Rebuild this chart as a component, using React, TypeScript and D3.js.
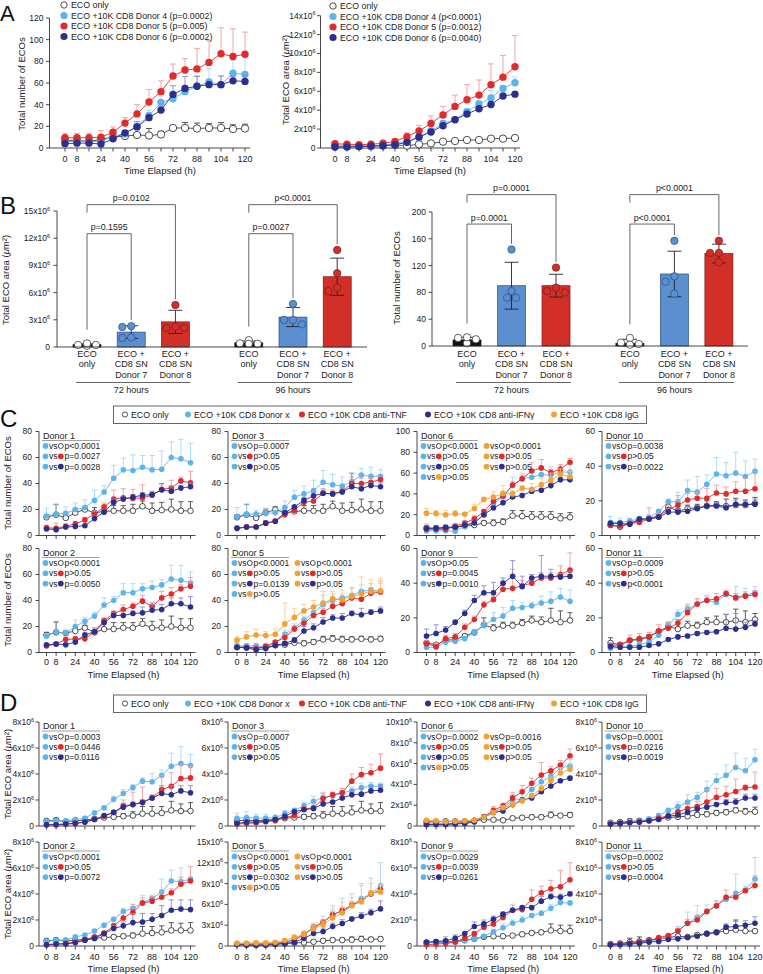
import React from "react";
import * as d3 from "d3";

const FONT = "Arial, 'Liberation Sans', Helvetica, sans-serif";
const TXT = "#222";

const TIME = [0, 8, 16, 24, 32, 40, 48, 56, 64, 72, 80, 88, 96, 104, 112, 120];
const TIME_LABELS = [0, 8, 24, 40, 56, 72, 88, 104, 120];

const COL: Record<string, string> = { eco: "#222222", x: "#5DB4EB", tnf: "#E12B2B", ifn: "#2C2F8E", igg: "#F2A234" };
const ERRC: Record<string, string> = { eco: "#4a4a4a", x: "#A9D7F4", tnf: "#F09C9C", ifn: "#8A8CC8", igg: "#F7CD8E" };

// ---------- Panel A ----------
const aCountEco = [7, 7, 6, 8, 10, 11, 12, 11.5, 12.5, 18.5, 18.5, 18, 18.5, 18.5, 17.5, 18];
const aCountEcoSd = [2, 2, 2, 2, 2, 2, 2, 6.5, 3, 1.5, 5, 5, 4, 5, 4, 4];
const aCountD4 = [6, 6, 6, 6, 11, 13, 20, 30, 42, 45.5, 52, 57, 61, 58.5, 69, 68];
const aCountD4Sd = [3, 3, 3, 3, 3, 3, 3, 5, 6, 4, 6, 10, 12, 8, 12, 15];
const aCountD5 = [9.5, 9.5, 9.5, 10, 14.5, 23, 31.5, 42.5, 52, 66.5, 72, 73, 79, 87, 84.5, 86.5];
const aCountD5Sd = [4, 4, 4, 6, 5, 5, 8.5, 11.5, 10, 11, 10.5, 19, 20, 24, 25.5, 20.5];
const aCountD6 = [4, 4.5, 4.5, 3.7, 8.5, 14, 19.5, 28, 35, 49.5, 55, 57, 58.5, 58.5, 62, 61.5];
const aCountD6Sd = [2, 2, 2, 2, 2, 2, 5, 3, 3, 8, 11, 9, 3, 8, 4, 5];

const aAreaEco = [0.2, 0.2, 0.2, 0.2, 0.25, 0.32, 0.25, 0.39, 0.49, 0.67, 0.74, 0.85, 0.85, 0.99, 0.99, 1.06];
const aAreaEcoSd = [0.1, 0.1, 0.1, 0.1, 0.1, 0.1, 0.1, 0.1, 0.1, 0.1, 0.1, 0.1, 0.1, 0.2, 0.2, 0.15];
const aAreaD4 = [0.15, 0.15, 0.15, 0.2, 0.3, 0.46, 0.7, 1.2, 1.8, 2.6, 3.0, 3.85, 4.65, 5.3, 6.3, 6.9];
const aAreaD4Sd = [0.1, 0.1, 0.1, 0.1, 0.1, 0.1, 0.15, 0.2, 0.25, 0.3, 0.3, 0.3, 0.35, 0.8, 0.3, 0.6];
const aAreaD5 = [0.45, 0.4, 0.35, 0.4, 0.5, 0.7, 1.2, 1.8, 2.6, 3.5, 4.4, 5.1, 5.6, 6.7, 7.5, 8.6];
const aAreaD5Sd = [0.2, 0.1, 0.1, 0.1, 0.15, 0.15, 0.4, 0.6, 0.8, 0.9, 1.2, 1.6, 1.6, 2.2, 2.3, 3.3];
const aAreaD6 = [0.1, 0.1, 0.15, 0.2, 0.25, 0.35, 0.6, 1.15, 1.7, 2.35, 3.0, 3.6, 4.15, 4.6, 5.5, 5.7];
const aAreaD6Sd = [0.05, 0.05, 0.05, 0.05, 0.05, 0.1, 0.1, 0.15, 0.15, 0.15, 0.15, 0.2, 0.2, 0.2, 0.2, 0.2];

const aCountLegend = ["ECO only", "ECO +10K CD8 Donor 4 (p=0.0002)", "ECO +10K CD8 Donor 5 (p=0.005)", "ECO +10K CD8 Donor 6 (p=0.0002)"];
const aAreaLegend = ["ECO only", "ECO +10K CD8 Donor 4 (p<0.0001)", "ECO +10K CD8 Donor 5 (p=0.0012)", "ECO +10K CD8 Donor 6 (p=0.0040)"];

// ---------- Panel B ----------
const bGroups = ["72 hours", "96 hours"];
const bConditions = [["ECO", "only"], ["ECO +", "CD8 SN", "Donor 7"], ["ECO +", "CD8 SN", "Donor 8"]];
const bAreaMean = [0.25, 1.64, 2.77, 0.46, 3.3, 7.75];
const bAreaSd = [0.1, 0.7, 1.28, 0.2, 1.05, 2.05];
const bAreaDots = [[0.14, 0.4, 0.22, 0.22], [2.2, 2.3, 1.0, 1.05], [4.63, 2.24, 2.1, 2.1], [0.75, 0.35, 0.35, 0.4], [4.74, 2.98, 2.98, 2.5], [10.7, 8.13, 6.17, 6.54]];
const bAreaP = [["p=0.1595", "p=0.0102"], ["p=0.0027", "p<0.0001"]];
const bAreaBracket = [12.5, 15.7];
const bCountMean = [9, 90, 90, 4, 107.5, 138];
const bCountSd = [4, 35, 17, 6, 34, 14];
const bCountDots = [[4, 10, 12, 13], [144, 82, 72, 72], [117, 87, 80, 82], [12, 2, 3, 5], [157, 104, 96, 78], [157, 139, 139, 125]];
const bCountP = [["p=0.0001", "p=0.0001"], ["p<0.0001", "p<0.0001"]];
const bCountBracket = [182, 226];

// ---------- Panel C (number of ECOs) ----------
const cD1 = {
  eco: [14, 16, 13.5, 17.5, 20, 17.5, 18.5, 19, 19, 19, 22.5, 19, 19.5, 20, 19, 19], ecoSd: [2, 8, 2, 3, 2, 4, 3, 4, 4, 5, 4, 6, 6, 8, 7, 7],
  x: [15, 16.5, 17, 20, 21.5, 27, 33.5, 44, 50.5, 50, 52.5, 50.5, 51, 60, 59, 56], xSd: [6, 7, 5, 5, 6, 8, 5, 10, 9, 12, 9, 11, 14, 12, 15, 15],
  tnf: [6, 5.5, 7, 9, 12, 16.5, 22, 28, 29, 28.5, 29, 31, 35.5, 36.5, 42, 40.5], tnfSd: [2, 4, 2, 2, 2, 2, 3, 7, 7, 7, 10, 3, 4, 6, 3, 9],
  ifn: [5, 4.5, 6.5, 7, 7.5, 13, 18, 25.5, 28, 29.5, 31, 31.5, 35, 34, 36.5, 37.5], ifnSd: [1, 1, 1, 1, 1, 2, 2, 2.5, 2, 2, 2, 2, 5, 4, 2, 3],
};
const cD3 = {
  eco: [14, 16, 13.5, 17.5, 20, 17.5, 18.5, 19, 19, 19, 22.5, 19, 19.5, 20, 19, 19], ecoSd: [2, 8, 2, 3, 2, 4, 3, 4, 4, 5, 4, 6, 6, 8, 7, 7],
  x: [14.5, 16.5, 16.5, 17, 17.5, 21.5, 29.5, 32, 34.5, 41, 39, 38, 41.5, 46.5, 45.5, 45.5], xSd: [7, 7, 3, 4, 3, 5, 5, 6, 8, 9, 8, 7, 7, 5, 7, 5],
  tnf: [5.5, 6.5, 6.5, 9.5, 11, 16, 19.5, 25.5, 26.5, 32.5, 32, 34, 40, 40, 41, 43], tnfSd: [2, 2, 1, 2, 2, 2, 2.5, 3, 3, 3.5, 3, 2, 5, 4, 3, 2],
  ifn: [5.5, 6.5, 6.5, 9.5, 11, 17.5, 22, 27, 30.5, 32.5, 32, 33.5, 37.5, 36, 38.5, 37.5], ifnSd: [1, 1, 1, 1, 1, 1, 1, 2, 2.5, 2.5, 2, 3, 10, 2, 2, 3],
};
const cD6 = {
  eco: [7, 7, 7, 8, 9, 10, 12, 12, 13, 19, 18.5, 18, 18, 18, 16.5, 17.5], ecoSd: [2, 2, 2, 2, 2, 3, 2, 3, 3, 5, 5.5, 5, 5, 5, 4.5, 4.5],
  x: [4.5, 4.5, 4.5, 4, 9, 13, 20, 30.5, 37, 48, 54.5, 56, 58.5, 58, 61, 61], xSd: [2, 2, 2, 2, 2, 2, 2, 3.5, 3, 8, 5.5, 7, 7.5, 8, 7, 7],
  tnf: [6, 6, 6, 9, 12, 16, 23, 33, 38, 48.5, 54.5, 62, 65, 60.5, 64, 70.5], tnfSd: [5, 2, 2, 2, 2, 3, 2, 4, 3, 3.5, 3.5, 8, 8, 3, 4, 3.5],
  ifn: [7, 7, 8, 8, 10, 12, 20, 26.5, 31.5, 37, 38.5, 42.5, 43.5, 48, 53.5, 53.5], ifnSd: [2, 2, 2, 2, 2, 2, 2, 2, 2, 2, 2, 2, 2, 2, 2, 2],
  igg: [21.5, 21, 20, 21, 20.5, 26, 34.5, 37, 40.5, 40, 45.5, 44.5, 49, 53, 59, 56.5], iggSd: [4.5, 3, 4, 3, 2, 4, 2.5, 5, 7.5, 3, 2.5, 5.5, 6, 7, 5, 5.5],
};
const cD10 = {
  eco: [6, 5, 7, 9, 10, 11, 16.5, 14, 15.5, 16, 17, 17.5, 17, 17.5, 17.5, 18.5], ecoSd: [2, 1.5, 1, 1, 1, 1, 2.5, 1.5, 2, 2, 3, 2, 4, 4, 3, 3.5],
  x: [7.5, 7.5, 8.5, 9.5, 10, 14, 19.5, 19.5, 26, 25, 29.5, 35.5, 34.5, 36, 34, 37], xSd: [3.5, 2.5, 1.5, 1.5, 2, 1, 1.5, 5.5, 6, 9, 5.5, 9.5, 7.5, 12, 9, 7],
  tnf: [6, 5.5, 7, 7.5, 9.5, 11, 15, 17.5, 20.5, 21.5, 21.5, 24.5, 24, 25.5, 25.5, 27], tnfSd: [1, 1, 2, 1.5, 6.5, 1.5, 2, 5.5, 3.5, 3.5, 5.5, 4.5, 4, 5.5, 7.5, 10],
  ifn: [7, 7, 6.5, 9.5, 9.5, 10.5, 13.5, 13.5, 14, 15.5, 17, 17, 16, 18, 18, 18], ifnSd: [1, 1, 1, 1, 1, 1, 2, 2, 2.5, 1.5, 1.5, 2, 2, 2.5, 2, 3],
};
const cD2 = {
  eco: [13.5, 15.5, 15, 16.5, 19, 15.5, 18, 18, 19, 19, 22, 19, 19, 20, 19, 19], ecoSd: [2, 8, 2, 2, 2, 2, 4, 5, 4, 4, 4, 5, 6, 8, 7, 7],
  x: [12.5, 16, 15, 20, 24, 28, 36.5, 40, 46, 46, 49, 50, 52, 56.5, 55.5, 53.5], xSd: [2, 2, 2, 5, 3, 3, 5.5, 3, 7, 7, 4, 5, 4, 10.5, 11.5, 8.5],
  tnf: [5, 6.5, 10, 10.5, 10.5, 16, 24.5, 30, 33, 35.5, 39.5, 35.5, 42, 45, 49, 51], tnfSd: [1, 1.5, 2, 1.5, 1.5, 2, 2, 2, 3.5, 2.5, 4.5, 3, 5, 5, 3, 6.5],
  ifn: [6, 6.5, 6, 8, 13.5, 16, 23, 28.5, 28.5, 30, 30.5, 32.5, 33, 37.5, 37.5, 35], ifnSd: [1, 1, 1, 1.5, 2, 3, 2, 2.5, 3, 2, 4.5, 4.5, 4, 4.5, 4.5, 8],
};
const cD5 = {
  eco: [4, 4, 3.5, 4, 5.5, 6, 7.5, 7, 8, 10, 10.5, 10, 10, 10.5, 10, 10.5], ecoSd: [1.5, 1.5, 1.5, 1.5, 1.5, 2, 2, 2, 2, 2.5, 2.5, 2.5, 2, 2, 2, 2],
  x: [5, 5, 5, 4.5, 7, 14, 19, 25, 30.5, 37, 40, 42, 44, 47, 48, 47], xSd: [2, 2, 2, 2, 2, 3, 3, 3, 3, 7, 5, 3, 6, 5, 5, 6],
  tnf: [4, 4, 3, 5, 8, 11.5, 18, 22.5, 28.5, 31, 35.5, 37.5, 42, 41, 45.5, 46.5], tnfSd: [1, 1, 1, 1, 1, 2.5, 2, 2.5, 2.5, 3, 2.5, 2.5, 2, 4, 4.5, 8.5],
  ifn: [4, 3.5, 2, 3, 5.5, 7, 9.5, 16.5, 19, 23.5, 26.5, 26.5, 30, 29, 31, 32], ifnSd: [1, 1, 1, 1, 1, 1, 2, 3.5, 3, 3.5, 2.5, 3.5, 2, 5, 2, 3],
  igg: [9.5, 12, 13.5, 13, 14, 22, 27, 32, 35, 38, 41.5, 40.5, 43, 45, 47, 47.5], iggSd: [2.5, 4, 4.5, 3, 4, 16, 7, 5, 5, 9, 5.5, 7.5, 6, 13, 9, 9.5],
};
const cD9 = {
  eco: [5.5, 4.5, 7, 7.5, 9.5, 11.5, 16, 14, 15.5, 15.5, 17, 18.5, 17.5, 18.5, 17.5, 18.5], ecoSd: [1, 1, 1, 1, 1, 1.5, 4, 2, 2, 2, 2, 2.5, 3, 7, 6.5, 4.5],
  x: [3, 3, 6, 6.5, 8, 11.5, 15.5, 19, 21, 25.5, 26, 27, 28.5, 29.5, 32, 29.5], xSd: [1, 1, 1, 1, 1, 1.5, 2, 4, 5, 4.5, 3, 2, 4, 5.5, 5, 6.5],
  tnf: [5, 3.5, 8, 9, 14.5, 19, 27.5, 30.5, 36.5, 37, 38.5, 40, 43, 43, 45, 47.5], tnfSd: [2, 2, 2, 2, 2, 2, 2, 2, 3, 11, 3, 3, 3, 3, 5, 10],
  ifn: [9.5, 11, 13, 17.5, 22.5, 30, 34.5, 34.5, 40, 44, 38, 43, 44, 44, 43.5, 44], ifnSd: [4, 5, 2, 1, 2, 3, 4, 6, 3, 9, 6, 2, 12, 4, 2, 3],
};
const cD11 = {
  eco: [5.5, 4.5, 7, 7.5, 9, 12, 15, 13.5, 15.5, 15.5, 17.5, 17.5, 17.5, 18.5, 17.5, 19], ecoSd: [3, 1, 1, 1, 1, 1, 2, 5.5, 2.5, 2, 2.5, 3.5, 4.5, 6.5, 6.5, 3.5],
  x: [2.5, 3, 3.5, 4.5, 6, 10, 15.5, 22, 25, 28, 30, 29, 33.5, 32, 33, 34.5], xSd: [1, 1, 1, 1, 1, 1, 2.5, 2.5, 3, 3, 3, 3, 1.5, 6, 4, 3.5],
  tnf: [4, 4.5, 7, 8, 9, 12.5, 14, 17, 23, 28, 30, 31, 34, 31.5, 32.5, 33.5], tnfSd: [1, 1, 3, 3, 2.5, 3.5, 3, 2, 4, 3, 2, 3, 2, 2.5, 2.5, 2],
  ifn: [3.5, 3, 3, 3, 4, 5, 7.5, 9, 9.5, 11, 11.5, 12, 14, 13.5, 14.5, 16.5], ifnSd: [2, 1, 1, 1, 1, 1, 1, 1, 1, 1, 1, 1, 8, 9, 3, 2],
};

// ---------- Panel D (area, x10^6 um^2) ----------
const dD1 = {
  eco: [0.4, 0.45, 0.35, 0.4, 0.45, 0.55, 0.65, 0.7, 0.75, 0.8, 0.95, 0.95, 1.0, 1.2, 1.15, 1.15], ecoSd: [0.1, 0.15, 0.1, 0.1, 0.1, 0.1, 0.1, 0.15, 0.2, 0.3, 0.55, 0.55, 0.5, 0.7, 0.55, 0.65],
  x: [0.35, 0.4, 0.4, 0.5, 0.6, 1.0, 1.4, 2.05, 2.5, 2.95, 3.45, 3.4, 3.9, 4.6, 4.8, 4.65], xSd: [0.1, 0.1, 0.1, 0.1, 0.15, 0.2, 0.1, 0.25, 0.3, 0.25, 0.25, 0.65, 0.4, 1.0, 1.3, 0.85],
  tnf: [0.1, 0.1, 0.15, 0.2, 0.3, 0.5, 0.75, 1.05, 1.55, 1.65, 1.85, 2.15, 2.8, 3.05, 3.65, 3.7], tnfSd: [0.05, 0.05, 0.05, 0.05, 0.1, 0.1, 0.1, 0.15, 0.45, 0.95, 1.15, 0.25, 1.1, 1.05, 1.05, 0.9],
  ifn: [0.1, 0.1, 0.15, 0.2, 0.3, 0.5, 0.8, 1.05, 1.45, 1.65, 1.8, 2.15, 2.5, 2.4, 2.7, 2.55], ifnSd: [0.05, 0.05, 0.05, 0.05, 0.1, 0.1, 0.1, 0.1, 0.3, 0.2, 0.2, 0.2, 0.6, 0.7, 0.4, 0.55],
};
const dD3 = {
  eco: [0.4, 0.45, 0.4, 0.45, 0.5, 0.6, 0.65, 0.7, 0.75, 0.8, 0.95, 0.95, 1.05, 1.2, 1.15, 1.15], ecoSd: [0.1, 0.15, 0.1, 0.1, 0.1, 0.1, 0.1, 0.15, 0.2, 0.3, 0.55, 0.55, 0.5, 0.7, 0.55, 0.65],
  x: [0.6, 0.65, 0.6, 0.6, 0.65, 0.95, 1.2, 1.55, 1.9, 2.2, 2.3, 2.55, 2.7, 2.95, 3.05, 3.05], xSd: [0.4, 0.45, 0.3, 0.3, 0.2, 0.25, 0.15, 0.25, 0.4, 0.3, 0.3, 0.3, 0.3, 0.35, 0.3, 0.25],
  tnf: [0.15, 0.2, 0.25, 0.35, 0.4, 0.65, 0.8, 1.3, 1.4, 2.1, 2.4, 2.55, 3.45, 3.95, 4.1, 4.45], tnfSd: [0.05, 0.05, 0.05, 0.1, 0.1, 0.1, 0.1, 0.2, 0.3, 0.45, 0.2, 0.35, 0.55, 0.55, 0.65, 1.1],
  ifn: [0.2, 0.3, 0.3, 0.35, 0.5, 0.75, 1.1, 1.25, 1.35, 1.7, 1.85, 2.15, 2.4, 2.45, 2.7, 2.75], ifnSd: [0.05, 0.05, 0.05, 0.05, 0.1, 0.1, 0.1, 0.1, 0.1, 0.1, 0.1, 0.1, 0.35, 0.45, 0.4, 0.45],
};
const dD6 = {
  eco: [0.4, 0.4, 0.45, 0.45, 0.45, 0.5, 0.6, 0.6, 0.55, 0.75, 0.8, 0.85, 0.85, 1.05, 1.0, 1.05], ecoSd: [0.1, 0.1, 0.1, 0.1, 0.1, 0.1, 0.1, 0.1, 0.15, 0.15, 0.15, 0.2, 0.2, 0.3, 0.2, 0.25],
  x: [0.15, 0.15, 0.15, 0.2, 0.25, 0.35, 0.8, 1.35, 1.75, 2.5, 2.55, 3.5, 4.25, 4.75, 5.6, 5.75], xSd: [0.05, 0.05, 0.05, 0.05, 0.05, 0.1, 0.1, 0.15, 0.2, 0.5, 0.45, 0.2, 0.55, 0.55, 0.3, 0.65],
  tnf: [0.15, 0.2, 0.2, 0.25, 0.35, 0.55, 0.9, 1.5, 1.95, 2.7, 3.3, 4.1, 4.9, 5.3, 5.85, 6.75], tnfSd: [0.05, 0.05, 0.05, 0.05, 0.1, 0.15, 0.2, 0.35, 0.25, 0.5, 0.6, 0.5, 1.2, 0.4, 0.45, 0.65],
  ifn: [0.15, 0.15, 0.15, 0.2, 0.25, 0.4, 0.85, 1.3, 1.45, 2.05, 2.5, 2.7, 3.3, 3.85, 4.35, 4.6], ifnSd: [0.05, 0.05, 0.05, 0.05, 0.05, 0.1, 0.1, 0.1, 0.1, 0.1, 0.1, 0.1, 0.1, 0.1, 0.1, 0.1],
  igg: [0.55, 0.5, 0.4, 0.45, 0.5, 0.55, 0.85, 1.3, 1.75, 2.05, 2.4, 2.9, 3.6, 4.4, 5.1, 5.45], iggSd: [0.1, 0.1, 0.1, 0.1, 0.1, 0.1, 0.1, 0.2, 0.2, 0.2, 0.2, 0.2, 0.3, 0.3, 0.5, 0.55],
};
const dD10 = {
  eco: [0.25, 0.3, 0.35, 0.4, 0.45, 0.55, 0.65, 0.7, 0.75, 0.85, 0.9, 1.0, 1.05, 1.2, 1.1, 1.1], ecoSd: [0.05, 0.05, 0.2, 0.1, 0.1, 0.1, 0.1, 0.1, 0.1, 0.15, 0.2, 0.2, 0.2, 0.2, 0.25, 0.35],
  x: [0.2, 0.2, 0.3, 0.35, 0.55, 0.8, 1.2, 1.5, 1.85, 2.2, 2.8, 3.5, 3.9, 4.5, 4.25, 5.1], xSd: [0.05, 0.05, 0.1, 0.1, 0.1, 0.1, 0.15, 0.35, 0.55, 0.4, 0.65, 0.5, 0.8, 1.1, 0.95, 0.8],
  tnf: [0.15, 0.2, 0.25, 0.3, 0.4, 0.6, 0.8, 1.1, 1.35, 1.5, 1.85, 2.2, 2.4, 2.65, 2.95, 3.0], tnfSd: [0.05, 0.05, 0.05, 0.05, 0.05, 0.1, 0.1, 0.15, 0.3, 0.4, 0.95, 0.7, 0.65, 0.95, 0.2, 1.15],
  ifn: [0.15, 0.2, 0.25, 0.3, 0.4, 0.5, 0.75, 0.85, 1.05, 1.3, 1.45, 1.65, 1.8, 1.85, 2.15, 2.15], ifnSd: [0.05, 0.05, 0.05, 0.05, 0.05, 0.05, 0.1, 0.1, 0.1, 0.1, 0.15, 0.15, 0.25, 0.25, 0.3, 0.3],
};
const dD2 = {
  eco: [0.4, 0.45, 0.4, 0.45, 0.5, 0.6, 0.65, 0.7, 0.75, 0.8, 0.95, 1.0, 1.05, 1.2, 1.2, 1.2], ecoSd: [0.1, 0.15, 0.1, 0.1, 0.1, 0.1, 0.1, 0.1, 0.15, 0.2, 0.55, 0.5, 0.5, 0.6, 0.55, 0.6],
  x: [0.35, 0.45, 0.45, 0.7, 0.85, 1.15, 1.6, 2.05, 2.65, 2.9, 3.35, 3.65, 4.15, 5.0, 4.95, 5.15], xSd: [0.1, 0.1, 0.1, 0.1, 0.1, 0.1, 0.15, 0.15, 0.25, 0.15, 0.55, 0.25, 1.0, 0.85, 1.05, 0.1],
  tnf: [0.1, 0.15, 0.2, 0.3, 0.5, 0.7, 1.0, 1.55, 2.15, 2.6, 3.3, 3.45, 3.75, 4.1, 4.75, 5.0], tnfSd: [0.05, 0.05, 0.05, 0.05, 0.1, 0.1, 0.1, 0.2, 0.35, 0.6, 0.4, 0.35, 0.45, 0.3, 0.55, 1.1],
  ifn: [0.1, 0.15, 0.15, 0.25, 0.45, 0.6, 0.95, 1.35, 1.55, 1.8, 1.85, 2.05, 2.35, 2.75, 2.85, 2.8], ifnSd: [0.05, 0.05, 0.05, 0.05, 0.1, 0.1, 0.1, 0.2, 0.3, 0.7, 0.65, 0.45, 0.75, 0.8, 0.7, 0.75],
};
const dD5 = {
  eco: [0.3, 0.3, 0.3, 0.3, 0.35, 0.35, 0.45, 0.5, 0.6, 0.75, 0.85, 0.85, 0.9, 1.0, 0.95, 1.0], ecoSd: [0.1, 0.1, 0.1, 0.1, 0.1, 0.1, 0.1, 0.1, 0.2, 0.25, 0.3, 0.3, 0.4, 0.4, 0.3, 0.3],
  x: [0.3, 0.2, 0.2, 0.25, 0.35, 0.55, 1.0, 1.75, 2.65, 3.5, 4.55, 5.05, 5.9, 6.85, 7.5, 8.7], xSd: [0.1, 0.1, 0.1, 0.1, 0.1, 0.1, 0.2, 0.4, 0.65, 0.8, 1.25, 1.85, 1.6, 2.15, 2.3, 3.3],
  tnf: [0.2, 0.15, 0.1, 0.15, 0.35, 0.55, 0.85, 1.6, 2.7, 3.4, 4.5, 5.1, 5.9, 6.5, 7.5, 8.1], tnfSd: [0.05, 0.05, 0.05, 0.05, 0.1, 0.1, 0.2, 0.3, 0.4, 0.4, 0.5, 0.5, 0.5, 0.5, 0.5, 0.7],
  ifn: [0.2, 0.15, 0.1, 0.15, 0.2, 0.35, 0.55, 1.1, 1.8, 2.1, 2.8, 3.25, 3.9, 4.3, 4.8, 5.35], ifnSd: [0.05, 0.05, 0.05, 0.05, 0.05, 0.1, 0.1, 0.2, 0.3, 0.5, 0.5, 0.55, 0.3, 0.5, 0.5, 1.15],
  igg: [0.4, 0.4, 0.45, 0.45, 0.55, 0.8, 1.25, 1.65, 2.5, 3.1, 4.05, 4.75, 5.8, 6.4, 7.6, 7.8], iggSd: [0.1, 0.1, 0.1, 0.1, 0.1, 0.1, 0.45, 0.55, 0.5, 0.5, 1.25, 1.55, 1.2, 2.3, 1.4, 1.0],
};
const dD9 = {
  eco: [0.25, 0.3, 0.3, 0.35, 0.45, 0.55, 0.7, 0.75, 0.75, 0.8, 0.9, 1.0, 1.05, 1.2, 1.15, 1.15], ecoSd: [0.05, 0.05, 0.05, 0.05, 0.1, 0.1, 0.1, 0.1, 0.1, 0.1, 0.15, 0.15, 0.15, 0.5, 0.45, 0.45],
  x: [0.25, 0.3, 0.25, 0.3, 0.4, 0.55, 0.75, 1.1, 1.4, 1.75, 2.0, 2.35, 2.5, 2.9, 3.35, 3.3], xSd: [0.05, 0.05, 0.05, 0.05, 0.05, 0.1, 0.1, 0.2, 0.3, 0.25, 0.3, 0.15, 0.25, 0.3, 0.25, 0.2],
  tnf: [0.1, 0.15, 0.2, 0.3, 0.6, 0.95, 1.45, 1.7, 2.2, 2.75, 2.8, 3.6, 4.1, 4.4, 4.55, 5.1], tnfSd: [0.05, 0.05, 0.05, 0.05, 0.1, 0.1, 0.1, 0.1, 0.3, 0.4, 0.25, 0.7, 0.5, 0.65, 1.25, 1.3],
  ifn: [0.3, 0.35, 0.4, 0.6, 0.95, 1.5, 1.7, 2.05, 2.45, 2.75, 2.95, 2.95, 3.45, 3.8, 3.75, 4.0], ifnSd: [0.1, 0.1, 0.3, 0.25, 0.1, 0.35, 0.3, 0.25, 0.15, 0.15, 0.1, 0.1, 0.35, 0.2, 0.25, 0.2],
};
const dD11 = {
  eco: [0.15, 0.2, 0.3, 0.35, 0.45, 0.55, 0.65, 0.75, 0.7, 0.85, 0.95, 1.05, 1.15, 1.25, 1.15, 1.15], ecoSd: [0.1, 0.1, 0.3, 0.35, 0.1, 0.1, 0.1, 0.1, 0.1, 0.1, 0.1, 0.1, 0.4, 0.75, 0.45, 0.1],
  x: [0.1, 0.15, 0.2, 0.25, 0.3, 0.5, 0.75, 1.2, 1.75, 2.2, 2.65, 3.1, 3.6, 4.05, 4.3, 5.15], xSd: [0.05, 0.05, 0.05, 0.05, 0.05, 0.05, 0.1, 0.3, 0.85, 0.9, 0.5, 0.4, 0.3, 1.5, 0.3, 1.65],
  tnf: [0.1, 0.15, 0.2, 0.3, 0.4, 0.65, 0.8, 1.15, 1.75, 2.0, 2.65, 3.1, 3.75, 3.75, 4.25, 4.65], tnfSd: [0.05, 0.05, 0.05, 0.05, 0.05, 0.05, 0.1, 0.2, 0.3, 0.3, 0.2, 0.3, 0.55, 0.25, 0.15, 0.75],
  ifn: [0.1, 0.1, 0.15, 0.2, 0.3, 0.35, 0.5, 0.55, 0.65, 0.75, 0.95, 1.05, 1.45, 1.5, 1.6, 1.75], ifnSd: [0.05, 0.05, 0.05, 0.05, 0.05, 0.05, 0.05, 0.05, 0.05, 0.05, 0.1, 0.1, 0.25, 0.4, 0.35, 0.5],
};

// annotations: [vs symbol, p-text]
const annC1 = [["eco", "p<0.0001"], ["tnf", "p=0.0027"], ["ifn", "p=0.0028"]];
const annC3 = [["eco", "p=0.0007"], ["tnf", "p>0.05"], ["ifn", "p>0.05"]];
const annC6 = [["eco", "p<0.0001"], ["tnf", "p>0.05"], ["ifn", "p>0.05"], ["igg", "p>0.05"]];
const annC6g = [["eco", "p<0.0001"], ["tnf", "p>0.05"], ["ifn", "p>0.05"]];
const annC10 = [["eco", "p=0.0038"], ["tnf", "p>0.05"], ["ifn", "p=0.0022"]];
const annC2 = [["eco", "p<0.0001"], ["tnf", "p>0.05"], ["ifn", "p=0.0050"]];
const annC5 = [["eco", "p<0.0001"], ["tnf", "p>0.05"], ["ifn", "p=0.0139"], ["igg", "p>0.05"]];
const annC5g = [["eco", "p<0.0001"], ["tnf", "p>0.05"], ["ifn", "p>0.05"]];
const annC9 = [["eco", "p>0.05"], ["tnf", "p=0.0045"], ["ifn", "p=0.0010"]];
const annC11 = [["eco", "p=0.0009"], ["tnf", "p>0.05"], ["ifn", "p<0.0001"]];
const annD1 = [["eco", "p=0.0003"], ["tnf", "p=0.0446"], ["ifn", "p=0.0116"]];
const annD3 = [["eco", "p=0.0007"], ["tnf", "p>0.05"], ["ifn", "p>0.05"]];
const annD6 = [["eco", "p=0.0002"], ["tnf", "p>0.05"], ["ifn", "p>0.05"], ["igg", "p>0.05"]];
const annD6g = [["eco", "p=0.0016"], ["tnf", "p>0.05"], ["ifn", "p>0.05"]];
const annD10 = [["eco", "p=0.0001"], ["tnf", "p=0.0216"], ["ifn", "p=0.0019"]];
const annD2 = [["eco", "p<0.0001"], ["tnf", "p>0.05"], ["ifn", "p=0.0072"]];
const annD5 = [["eco", "p<0.0001"], ["tnf", "p>0.05"], ["ifn", "p=0.0302"], ["igg", "p>0.05"]];
const annD5g = [["eco", "p<0.0001"], ["tnf", "p>0.05"], ["ifn", "p>0.05"]];
const annD9 = [["eco", "p=0.0029"], ["tnf", "p=0.0039"], ["ifn", "p=0.0261"]];
const annD11 = [["eco", "p=0.0002"], ["tnf", "p>0.05"], ["ifn", "p=0.0004"]];

const legendLabels = ["ECO only", "ECO +10K CD8 Donor x", "ECO +10K CD8 anti-TNF", "ECO +10K CD8 anti-IFNγ", "ECO +10K CD8 IgG"];
const legendKeys = ["eco", "x", "tnf", "ifn", "igg"];

// ---------- layout ----------
const COL_AX = [39, 228, 417, 602];
const COL_X0 = [46.5, 237, 426.5, 610.5];
const COL_X1 = [190.5, 380.5, 570, 755];
const LEG_X = [125, 188, 302, 428, 554];

type Ser = { key: string; m: number[]; sd: number[] };

function Sci({ v }: { v: number }) {
  if (v === 0) return <>0</>;
  return (<>{v}x10<tspan dy={-3.3} fontSize={5.6}>6</tspan></>);
}

function SeriesG({ s, x, y, r, cap }: { s: Ser; x: any; y: any; r: number; cap: number }) {
  const c = COL[s.key];
  const e = ERRC[s.key];
  const isEco = s.key === "eco";
  const line = d3.line<number>().x((_, i) => x(TIME[i])).y((d) => y(d));
  return (
    <g>
      {s.m.map((v, i) => {
        const xx = x(TIME[i]);
        const yt = y(v + s.sd[i]);
        return (
          <g key={"e" + i}>
            <line x1={xx} x2={xx} y1={y(v)} y2={yt} stroke={e} strokeWidth={0.9} />
            <line x1={xx - cap} x2={xx + cap} y1={yt} y2={yt} stroke={e} strokeWidth={0.9} />
          </g>
        );
      })}
      <path d={line(s.m) || ""} fill="none" stroke={isEco ? "#444" : c} strokeWidth={0.9} />
      {s.m.map((v, i) => (
        <circle key={"p" + i} cx={x(TIME[i])} cy={y(v)} r={r} fill={isEco ? "#fff" : c} stroke={isEco ? "#222" : "none"} strokeWidth={0.8} />
      ))}
    </g>
  );
}

function TimePlot(props: {
  ax: number; x0: number; x1: number; yTop: number; y0: number; yMax: number; yStep: number;
  area: boolean; xLabels: boolean; series: Ser[]; r: number; cap: number; tickY?: number; titleY?: number; lblOff?: number;
}) {
  const { ax, x0, x1, yTop, y0, yMax, yStep, area, xLabels, series, r, cap, tickY, titleY } = props;
  const lblOff = props.lblOff ?? 7;
  const x = d3.scaleLinear().domain([0, 120]).range([x0, x1]);
  const y = d3.scaleLinear().domain([0, yMax]).range([y0, yTop]);
  const yTicks = d3.range(0, yMax + 1e-9, yStep);
  const st = "#333";
  return (
    <g>
      <line x1={ax} x2={ax} y1={yTop} y2={y0} stroke={st} strokeWidth={0.9} />
      {yTicks.map((v) => (
        <g key={"yt" + v}>
          <line x1={ax - 3.5} x2={ax} y1={y(v)} y2={y(v)} stroke={st} strokeWidth={0.9} />
          <text x={ax - lblOff} y={y(v)} dy="0.35em" textAnchor="end" fontSize={8.5} fill={TXT}>
            {area ? <Sci v={v} /> : v}
          </text>
        </g>
      ))}
      <line x1={ax} x2={x1 + 5} y1={y0} y2={y0} stroke={st} strokeWidth={0.9} />
      {TIME.map((t) => (
        <line key={"xt" + t} x1={x(t)} x2={x(t)} y1={y0} y2={y0 + 3.5} stroke={st} strokeWidth={0.9} />
      ))}
      {xLabels && TIME_LABELS.map((t) => (
        <text key={"xl" + t} x={x(t)} y={tickY} textAnchor="middle" fontSize={9} fill={TXT}>{t}</text>
      ))}
      {xLabels && (
        <text x={(x0 + x1) / 2 + 5} y={titleY} textAnchor="middle" fontSize={9.5} fill={TXT}>Time Elapsed (h)</text>
      )}
      {series.map((s) => <SeriesG key={s.key} s={s} x={x} y={y} r={r} cap={cap} />)}
    </g>
  );
}

function Sym({ k, cx, cy, r }: { k: string; cx: number; cy: number; r: number }) {
  return k === "eco"
    ? <circle cx={cx} cy={cy} r={r - 0.4} fill="#fff" stroke="#222" strokeWidth={0.8} />
    : <circle cx={cx} cy={cy} r={r} fill={COL[k]} />;
}

function Annot({ ax, yTop, title, left, right }: { ax: number; yTop: number; title: string; left: string[][]; right?: string[][] }) {
  const rowY = (i: number) => yTop + 14.5 + i * 10.3;
  const col = (rows: string[][], c: number, key: string) =>
    rows.map((rw, i) => (
      <g key={key + i}>
        <Sym k={key} cx={c} cy={rowY(i)} r={2.9} />
        <text x={c + 3.6} y={rowY(i) + 3} fontSize={8.5} fill={TXT}>vs</text>
        <Sym k={rw[0]} cx={c + 15.3} cy={rowY(i)} r={2.9} />
        <text x={c + 19} y={rowY(i) + 3} fontSize={8.5} fill={TXT}>{rw[1]}</text>
      </g>
    ));
  return (
    <g>
      <text x={ax + 4} y={yTop + 7.2} fontSize={9} fill={TXT}>{title}</text>
      <line x1={ax + 3} x2={ax + 61} y1={yTop + 9} y2={yTop + 9} stroke="#888" strokeWidth={0.8} />
      {col(left, ax + 6.5, "x")}
      {right && col(right, ax + 69.5, "igg")}
    </g>
  );
}

function mk(d: any, keys: string[]): Ser[] {
  return keys.map((k) => ({ key: k, m: d[k], sd: d[k + "Sd"] }));
}

function Legend({ y }: { y: number }) {
  return (
    <g>
      <rect x={113.5} y={y - 8.5} width={533} height={17.5} fill="#fff" stroke="#555" strokeWidth={0.9} />
      {legendLabels.map((l, i) => (
        <g key={l}>
          <Sym k={legendKeys[i]} cx={LEG_X[i]} cy={y} r={3} />
          <text x={LEG_X[i] + 6} y={y + 3.1} fontSize={8.8} fill={TXT}>{l}</text>
        </g>
      ))}
    </g>
  );
}

function Beeswarm(vals: number[], y: (v: number) => number, r: number) {
  const order = vals.map((v, i) => i).sort((a, b) => vals[b] - vals[a]);
  const placed: { dx: number; py: number }[] = [];
  const res: number[] = new Array(vals.length).fill(0);
  const d = 2 * r + 1.5;
  order.forEach((i) => {
    const py = y(vals[i]);
    const cands = [0, -d / 2, d / 2, -d, d, -1.5 * d, 1.5 * d];
    let chosen = 0;
    for (const c of cands) {
      if (placed.every((p) => Math.hypot(p.dx - c, p.py - py) >= 2 * r + 0.3)) { chosen = c; break; }
    }
    placed.push({ dx: chosen, py });
    res[i] = chosen;
  });
  return res;
}

function BarPanel(props: {
  ax: number; y0: number; yTop: number; yMax: number; step: number; area: boolean; xStart: number; xSlotEnd: number; axisEnd: number;
  means: number[]; sds: number[]; dots: number[][]; pv: string[][]; levels: number[]; lblOff: number;
}) {
  const { ax, y0, yTop, yMax, step, area, xStart, xSlotEnd, axisEnd, means, sds, dots, pv, levels, lblOff } = props;
  const y = d3.scaleLinear().domain([0, yMax]).range([y0, yTop]);
  const slot = d3.scaleLinear().domain([0, 5.66]).range([xStart, xSlotEnd]);
  const sx = (g: number, c: number) => slot(g * 3.66 + c);
  const ticks = d3.range(0, yMax + 1e-9, step);
  const fills = ["#111", "#5B8FD0", "#D22F29"];
  const strokes = ["#111", "#2d4e86", "#7a1a16"];
  const bw = 14;
  const r = 3.7;
  const topOf = (i: number) => y(Math.max(...dots[i], means[i] + sds[i])) - r - 2;
  return (
    <g>
      <line x1={ax} x2={ax} y1={yTop} y2={y0} stroke="#333" strokeWidth={0.9} />
      {ticks.map((v) => (
        <g key={"t" + v}>
          <line x1={ax - 3.5} x2={ax} y1={y(v)} y2={y(v)} stroke="#333" strokeWidth={0.9} />
          <text x={ax - lblOff} y={y(v)} dy="0.35em" textAnchor="end" fontSize={8.5} fill={TXT}>{area ? <Sci v={v} /> : v}</text>
        </g>
      ))}
      {bGroups.map((gName, g) => (
        <g key={gName}>
          {bConditions.map((lines, c) => {
            const i = g * 3 + c;
            const cx = sx(g, c);
            const offs = Beeswarm(dots[i], y, r);
            const yt = y(means[i] + sds[i]);
            const yb = y(Math.max(0, means[i] - sds[i]));
            return (
              <g key={"b" + i}>
                <rect x={cx - bw} y={y(means[i])} width={bw * 2} height={y0 - y(means[i])} fill={fills[c]} stroke={strokes[c]} strokeWidth={0.7} />
                <line x1={cx} x2={cx} y1={yt} y2={yb} stroke="#222" strokeWidth={0.9} />
                <line x1={cx - 7} x2={cx + 7} y1={yt} y2={yt} stroke="#222" strokeWidth={0.9} />
                <line x1={cx - 7} x2={cx + 7} y1={yb} y2={yb} stroke="#222" strokeWidth={0.9} />
                {dots[i].map((v, k) => (
                  <circle key={k} cx={cx + offs[k]} cy={y(v)} r={r} fill={c === 0 ? "#fff" : fills[c]} stroke={c === 0 ? "#222" : strokes[c]} strokeWidth={0.7} />
                ))}
                {lines.map((t, li) => (
                  <text key={li} x={cx} y={356.5 + li * 10.5} textAnchor="middle" fontSize={9} fill={TXT}>{t}</text>
                ))}
              </g>
            );
          })}
          <line x1={sx(g, 0) - 11} x2={sx(g, 2) + 15} y1={382.5} y2={382.5} stroke="#555" strokeWidth={0.9} />
          <text x={sx(g, 1)} y={392.5} textAnchor="middle" fontSize={9} fill={TXT}>{gName}</text>
          <path d={`M${sx(g, 0)},${topOf(g * 3) - 8}V${y(levels[0])}H${sx(g, 1)}V${topOf(g * 3 + 1)}`} fill="none" stroke="#555" strokeWidth={0.9} />
          <text x={(sx(g, 0) + sx(g, 1)) / 2} y={y(levels[0]) - 3.5} textAnchor="middle" fontSize={8.8} fill={TXT}>{pv[g][0]}</text>
          <path d={`M${sx(g, 0)},${y(levels[1]) + 8}V${y(levels[1])}H${sx(g, 2)}V${topOf(g * 3 + 2)}`} fill="none" stroke="#555" strokeWidth={0.9} />
          <text x={(sx(g, 0) + sx(g, 2)) / 2} y={y(levels[1]) - 3.5} textAnchor="middle" fontSize={8.8} fill={TXT}>{pv[g][1]}</text>
        </g>
      ))}
      <line x1={ax} x2={axisEnd} y1={y0} y2={y0} stroke="#333" strokeWidth={0.9} />
    </g>
  );
}

function YLabel({ x, y, area, text }: { x: number; y: number; area?: boolean; text?: string }) {
  return (
    <text transform={`translate(${x},${y}) rotate(-90)`} textAnchor="middle" dy="0.35em" fontSize={9.5} fill={TXT}>
      {area ? (<>Total ECO area (<tspan fontStyle="italic">μ</tspan>m²)</>) : text}
    </text>
  );
}

function ALegend({ x, y0, labels }: { x: number; y0: number; labels: string[] }) {
  const keys = ["eco", "x", "tnf", "ifn"];
  return (
    <g>
      {labels.map((l, i) => (
        <g key={l}>
          <Sym k={keys[i]} cx={x} cy={y0 + i * 10.5} r={3.6} />
          <text x={x + 7} y={y0 + i * 10.5 + 3.1} fontSize={8.8} fill={TXT}>{l}</text>
        </g>
      ))}
    </g>
  );
}

export default function App() {
  const C_ROWS = [{ yTop: 431.5, y0: 535.5 }, { yTop: 548.5, y0: 652.5 }];
  const D_ROWS = [{ yTop: 722, y0: 826 }, { yTop: 842, y0: 946 }];
  const K4 = ["eco", "x", "tnf", "ifn"];
  const K5 = ["eco", "x", "tnf", "ifn", "igg"];
  const cPlots = [
    { d: cD1, keys: K4, col: 0, row: 0, yMax: 80, step: 20, title: "Donor 1", ann: annC1 },
    { d: cD3, keys: K4, col: 1, row: 0, yMax: 80, step: 20, title: "Donor 3", ann: annC3 },
    { d: cD6, keys: K5, col: 2, row: 0, yMax: 100, step: 20, title: "Donor 6", ann: annC6, ann2: annC6g },
    { d: cD10, keys: K4, col: 3, row: 0, yMax: 60, step: 20, title: "Donor 10", ann: annC10 },
    { d: cD2, keys: K4, col: 0, row: 1, yMax: 80, step: 20, title: "Donor 2", ann: annC2 },
    { d: cD5, keys: K5, col: 1, row: 1, yMax: 80, step: 20, title: "Donor 5", ann: annC5, ann2: annC5g },
    { d: cD9, keys: K4, col: 2, row: 1, yMax: 60, step: 20, title: "Donor 9", ann: annC9 },
    { d: cD11, keys: K4, col: 3, row: 1, yMax: 60, step: 20, title: "Donor 11", ann: annC11 },
  ];
  const dPlots = [
    { d: dD1, keys: K4, col: 0, row: 0, yMax: 8, step: 2, title: "Donor 1", ann: annD1 },
    { d: dD3, keys: K4, col: 1, row: 0, yMax: 8, step: 2, title: "Donor 3", ann: annD3 },
    { d: dD6, keys: K5, col: 2, row: 0, yMax: 10, step: 2, title: "Donor 6", ann: annD6, ann2: annD6g },
    { d: dD10, keys: K4, col: 3, row: 0, yMax: 8, step: 2, title: "Donor 10", ann: annD10 },
    { d: dD2, keys: K4, col: 0, row: 1, yMax: 8, step: 2, title: "Donor 2", ann: annD2 },
    { d: dD5, keys: K5, col: 1, row: 1, yMax: 15, step: 3, title: "Donor 5", ann: annD5, ann2: annD5g },
    { d: dD9, keys: K4, col: 2, row: 1, yMax: 8, step: 2, title: "Donor 9", ann: annD9 },
    { d: dD11, keys: K4, col: 3, row: 1, yMax: 8, step: 2, title: "Donor 11", ann: annD11 },
  ];
  const aCountSeries: Ser[] = [
    { key: "eco", m: aCountEco, sd: aCountEcoSd }, { key: "x", m: aCountD4, sd: aCountD4Sd },
    { key: "tnf", m: aCountD5, sd: aCountD5Sd }, { key: "ifn", m: aCountD6, sd: aCountD6Sd },
  ];
  const aAreaSeries: Ser[] = [
    { key: "eco", m: aAreaEco, sd: aAreaEcoSd }, { key: "x", m: aAreaD4, sd: aAreaD4Sd },
    { key: "tnf", m: aAreaD5, sd: aAreaD5Sd }, { key: "ifn", m: aAreaD6, sd: aAreaD6Sd },
  ];

  return (
    <svg width={763} height={974} style={{ position: "absolute", left: 0, top: 0, fontFamily: FONT, background: "#fff" }}>
      <rect x={0} y={0} width={763} height={974} fill="#fff" />
      <text x={0} y={21} fontSize={22} fill="#111">A</text>
      <text x={0} y={214} fontSize={24} fill="#111">B</text>
      <text x={0} y={427} fontSize={24} fill="#111">C</text>
      <text x={0} y={711} fontSize={24} fill="#111">D</text>

      <TimePlot ax={49.5} x0={65} x1={245} yTop={18} y0={148} yMax={120} yStep={20} area={false} xLabels={true}
        series={aCountSeries} r={3.7} cap={3} tickY={161.5} titleY={173.5} lblOff={6} />
      <YLabel x={22} y={84} text="Total number of ECOs" />
      <ALegend x={64} y0={5} labels={aCountLegend} />
      <TimePlot ax={320.5} x0={335} x1={515} yTop={15.7} y0={148} yMax={14} yStep={2} area={true} xLabels={true}
        series={aAreaSeries} r={3.7} cap={3} tickY={161.5} titleY={173.5} lblOff={5} />
      <YLabel x={286} y={80} area />
      <ALegend x={333} y0={6} labels={aAreaLegend} />

      <BarPanel ax={57} y0={347} yTop={211} yMax={15} step={3} area={true} xStart={87} xSlotEnd={337.2} axisEnd={367}
        means={bAreaMean} sds={bAreaSd} dots={bAreaDots} pv={bAreaP} levels={bAreaBracket} lblOff={7} />
      <YLabel x={6} y={280} area />
      <BarPanel ax={432} y0={346} yTop={212} yMax={200} step={40} area={false} xStart={467} xSlotEnd={718.9} axisEnd={748}
        means={bCountMean} sds={bCountSd} dots={bCountDots} pv={bCountP} levels={bCountBracket} lblOff={6} />
      <YLabel x={397} y={278} text="Total number of ECOs" />

      <Legend y={414.5} />
      {cPlots.map((p) => {
        const rr = C_ROWS[p.row];
        return (
          <g key={"c" + p.title}>
            <TimePlot ax={COL_AX[p.col]} x0={COL_X0[p.col]} x1={COL_X1[p.col]} yTop={rr.yTop} y0={rr.y0} yMax={p.yMax} yStep={p.step}
              area={false} xLabels={p.row === 1} series={mk(p.d, p.keys)} r={2.8} cap={2.6} tickY={665} titleY={677.5} />
            <Annot ax={COL_AX[p.col]} yTop={rr.yTop} title={p.title} left={p.ann} right={(p as any).ann2} />
          </g>
        );
      })}
      <YLabel x={8} y={483} text="Total number of ECOs" />
      <YLabel x={8} y={600} text="Total number of ECOs" />

      <Legend y={703.5} />
      {dPlots.map((p) => {
        const rr = D_ROWS[p.row];
        return (
          <g key={"d" + p.title}>
            <TimePlot ax={COL_AX[p.col]} x0={COL_X0[p.col]} x1={COL_X1[p.col]} yTop={rr.yTop} y0={rr.y0} yMax={p.yMax} yStep={p.step}
              area={true} xLabels={p.row === 1} series={mk(p.d, p.keys)} r={2.8} cap={2.6} tickY={959.5} titleY={972.3} lblOff={5} />
            <Annot ax={COL_AX[p.col]} yTop={rr.yTop} title={p.title} left={p.ann} right={(p as any).ann2} />
          </g>
        );
      })}
      <YLabel x={8} y={774} area />
      <YLabel x={8} y={894} area />
    </svg>
  );
}
